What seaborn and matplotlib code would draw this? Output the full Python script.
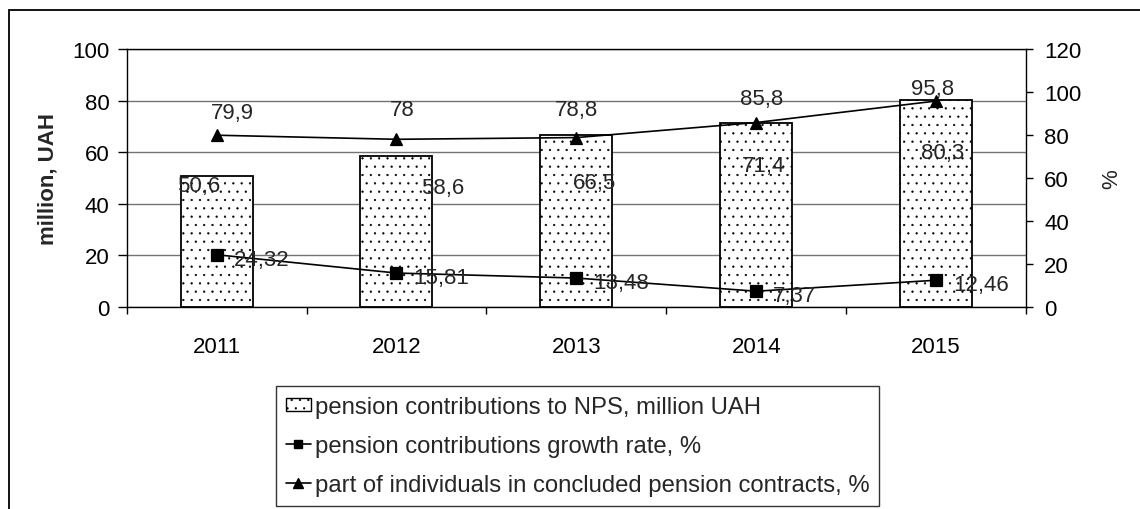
import matplotlib

matplotlib.use("Agg")
import matplotlib.pyplot as plt
import numpy as np
import seaborn as sns
from matplotlib.lines import Line2D
from matplotlib.patches import Patch, Rectangle
from matplotlib.ticker import FixedLocator

YEARS = ["2011", "2012", "2013", "2014", "2015"]
CONTRIBUTIONS = [50.6, 58.6, 66.5, 71.4, 80.3]
GROWTH_RATE = [24.32, 15.81, 13.48, 7.37, 12.46]
INDIVIDUALS_SHARE = [79.9, 78.0, 78.8, 85.8, 95.8]
LEFT_TICKS = [0, 20, 40, 60, 80, 100]
RIGHT_TICKS = [0, 20, 40, 60, 80, 100, 120]

LEGEND_LABELS = [
    "pension contributions to NPS, million UAH",
    "pension contributions growth rate, %",
    "part of individuals in concluded pension contracts, %",
]

# label placement (pixel offsets from the mark), as in the original sheet
BAR_LABEL_OFFSETS = [(-18, 7), (46, 29), (18, 45), (7, 40), (7, 50)]
TRI_LABEL_OFFSETS = [(16, 25), (6, 32), (0, 31), (5, 27), (-4, 15)]
SQ_LABEL_OFFSET = (17, -2)

FONT_SIZE = 16
LEGEND_SIZE = 17.2


def fmt(v: float) -> str:
    return f"{v:g}".replace(".", ",")


sns.set_style("white")
plt.rcParams["font.family"] = ["Liberation Sans", "DejaVu Sans"]
plt.rcParams["hatch.linewidth"] = 0.4

fig = plt.figure(figsize=(11.4, 5.1), dpi=100)
ax = fig.add_axes([0.1111, 0.396, 0.9 - 0.1111, 0.902 - 0.396])

sns.barplot(
    x=YEARS, y=CONTRIBUTIONS, ax=ax, color="white", saturation=1,
    edgecolor="black", linewidth=1.3, width=0.4, hatch="..",
)
ax.set_ylim(0, 100)
ax.set_yticks(LEFT_TICKS)
ax.set_axisbelow(True)
ax.yaxis.grid(True, color="0.45", linewidth=1.0)
ax.xaxis.grid(False)
for side in ["left", "bottom", "top"]:
    ax.spines[side].set_color("black")
    ax.spines[side].set_linewidth(1.0)
ax.spines["right"].set_visible(False)
ax.tick_params(axis="y", direction="out", length=6.5, width=1, pad=6,
               labelsize=FONT_SIZE, colors="black", left=True)
ax.set_ylabel("million, UAH", fontsize=FONT_SIZE, fontweight="bold", labelpad=10)

ax2 = ax.twinx()
sns.pointplot(x=YEARS, y=GROWTH_RATE, ax=ax2, color="black", markers="s",
              markersize=8, linewidth=1.2, errorbar=None)
sns.pointplot(x=YEARS, y=INDIVIDUALS_SHARE, ax=ax2, color="black", markers="^",
              markersize=9, linewidth=1.2, errorbar=None)
ax2.set_ylim(0, 120)
ax2.set_yticks(RIGHT_TICKS)
ax2.grid(False)
ax2.set_xlabel("")
for side in ["left", "top", "bottom"]:
    ax2.spines[side].set_visible(False)
ax2.spines["right"].set_color("black")
ax2.spines["right"].set_linewidth(1.0)
ax2.tick_params(axis="y", direction="out", length=5, width=1, pad=8,
                labelsize=FONT_SIZE, colors="black", right=True)
ax2.set_ylabel("%", fontsize=FONT_SIZE, labelpad=14)

# x axis: labels at the categories, tick marks between them
ax.set_xlim(-0.5, len(YEARS) - 0.5)
ax.set_xticks(range(len(YEARS)))
ax.set_xticklabels(YEARS)
ax.xaxis.set_minor_locator(FixedLocator(np.arange(len(YEARS) + 1) - 0.5))
ax.tick_params(axis="x", which="major", length=0, pad=21, labelsize=FONT_SIZE, colors="black")
ax.tick_params(axis="x", which="minor", direction="out", length=5, width=1, color="black", bottom=True)
ax.set_xlabel("")

for i, v in enumerate(CONTRIBUTIONS):
    dx, dy = BAR_LABEL_OFFSETS[i]
    ax.annotate(fmt(v), (i, v), xytext=(dx, -dy), textcoords="offset pixels",
                ha="center", va="center_baseline", fontsize=FONT_SIZE, zorder=5)
for i, v in enumerate(GROWTH_RATE):
    ax2.annotate(fmt(v), (i, v), xytext=SQ_LABEL_OFFSET, textcoords="offset pixels",
                 ha="left", va="center_baseline", fontsize=FONT_SIZE)
for i, v in enumerate(INDIVIDUALS_SHARE):
    dx, dy = TRI_LABEL_OFFSETS[i]
    ax2.annotate(fmt(v), (i, v), xytext=(dx, dy), textcoords="offset pixels",
                 ha="center", va="center_baseline", fontsize=FONT_SIZE)

handles = [
    Patch(facecolor="white", edgecolor="black", hatch="..", linewidth=1.0),
    Line2D([], [], color="black", marker="s", markersize=6, linewidth=1.2),
    Line2D([], [], color="black", marker="^", markersize=7, linewidth=1.2),
]
leg = fig.legend(handles, LEGEND_LABELS, loc="upper left", bbox_to_anchor=(0.242, 0.241),
                 borderaxespad=0, fontsize=LEGEND_SIZE, frameon=True, fancybox=False,
                 edgecolor="black", handlelength=1.05, handleheight=0.45, handletextpad=0.15,
                 labelspacing=0.7, borderpad=0.42)
leg.get_frame().set_linewidth(1.0)

# outer chart-area border
fig.add_artist(Rectangle((9 / 1140, -0.1), 1.2, 0.978 + 0.1, transform=fig.transFigure,
                         fill=False, edgecolor="black", linewidth=1.3))

fig.savefig("out.png", dpi=100)
